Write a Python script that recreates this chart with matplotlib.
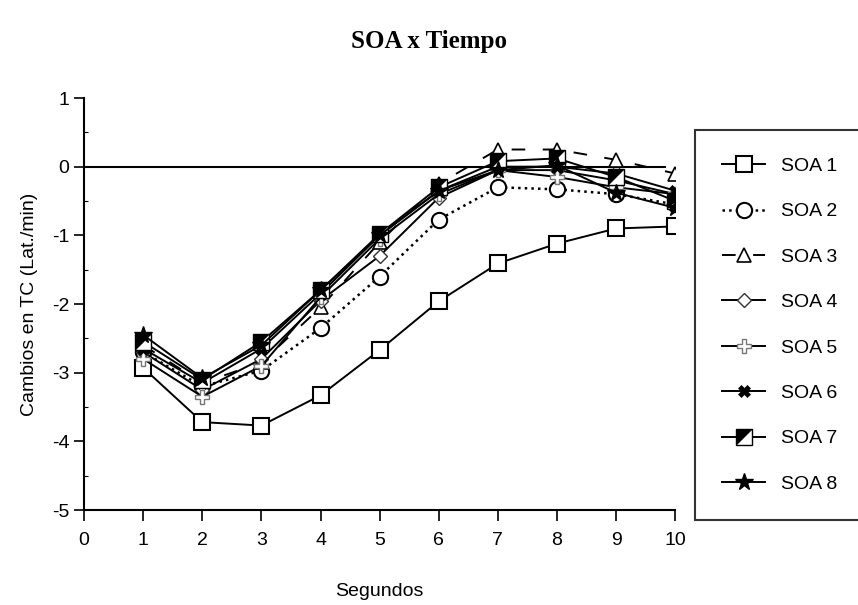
import matplotlib
matplotlib.use("Agg")
import matplotlib.pyplot as plt
from matplotlib.legend_handler import HandlerTuple

seconds = [1, 2, 3, 4, 5, 6, 7, 8, 9, 10]
soa1 = [-2.93, -3.72, -3.77, -3.33, -2.67, -1.96, -1.41, -1.12, -0.90, -0.87]
soa2 = [-2.70, -3.20, -2.97, -2.35, -1.60, -0.77, -0.30, -0.33, -0.40, -0.55]
soa3 = [-2.60, -3.15, -2.85, -2.05, -1.10, -0.25, 0.25, 0.25, 0.10, -0.10]
soa4 = [-2.70, -3.25, -2.80, -1.95, -1.30, -0.45, -0.05, -0.05, -0.20, -0.40]
soa5 = [-2.80, -3.35, -2.90, -1.90, -1.05, -0.40, -0.05, -0.15, -0.30, -0.40]
soa6 = [-2.65, -3.15, -2.65, -1.85, -1.00, -0.35, 0.00, 0.00, -0.10, -0.35]
soa7 = [-2.55, -3.10, -2.55, -1.80, -0.98, -0.30, 0.08, 0.12, -0.15, -0.50]
soa8 = [-2.45, -3.08, -2.60, -1.80, -1.00, -0.35, -0.05, 0.02, -0.38, -0.60]
labels = ["SOA 1", "SOA 2", "SOA 3", "SOA 4", "SOA 5", "SOA 6", "SOA 7", "SOA 8"]
xticks = list(range(0, 11))
yticks = [1, 0, -1, -2, -3, -4, -5]

plt.rcParams['font.family'] = ['Liberation Sans', 'DejaVu Sans']
plt.rcParams['axes.unicode_minus'] = False

fig = plt.figure(figsize=(8.58, 6.05), dpi=100)
ax = fig.add_axes([0.098, 0.157, 0.689, 0.681])

lw = 1.4
ax.axhline(0, xmin=0, xmax=0.983, color='black', lw=1.5, zorder=1)

h1, = ax.plot(seconds, soa1, '-', color='black', lw=lw, marker='s', ms=11,
              mfc='white', mec='black', mew=1.5, label=labels[0], zorder=3)
h2, = ax.plot(seconds, soa2, ':', color='black', lw=1.8, marker='o', ms=11,
              mfc='white', mec='black', mew=1.5, label=labels[1], zorder=3)
h3, = ax.plot(seconds, soa3, color='black', lw=lw, dashes=(7, 9), marker='^', ms=10,
              mfc='white', mec='black', mew=1.2, label=labels[2], zorder=3)
h4, = ax.plot(seconds, soa4, '-', color='black', lw=lw, marker='D', ms=7,
              mfc='white', mec='#333333', mew=1.0, label=labels[3], zorder=3)
h5, = ax.plot(seconds, soa5, '-', color='black', lw=lw, marker='P', ms=10,
              mfc='white', mec='#777777', mew=1.0, label=labels[4], zorder=3)
h6, = ax.plot(seconds, soa6, '-', color='black', lw=lw, marker='X', ms=9,
              mfc='black', mec='black', mew=0.5, label=labels[5], zorder=4)
h7a, = ax.plot(seconds, soa7, '-', color='black', lw=lw, marker='s', ms=11,
               mfc='white', mec='black', mew=1.0, zorder=4)
tri = [(-1, -1), (-1, 1), (1, 1)]
h7b, = ax.plot(seconds, soa7, linestyle='none', marker=tri, ms=11,
               mfc='black', mec='black', mew=0.5, zorder=4)
h8, = ax.plot(seconds, soa8, '-', color='black', lw=lw, marker='*', ms=13,
              mfc='black', mec='black', label=labels[7], zorder=5)

ax.set_xlim(0, 10)
ax.set_ylim(-5, 1)
ax.set_xticks(xticks)
ax.set_yticks(yticks)
ax.set_yticks([0.5, -0.5, -1.5, -2.5, -3.5, -4.5], minor=True)
ax.tick_params(axis='both', which='major', direction='out', length=7, width=1.2,
               labelsize=14, colors='black')
ax.tick_params(axis='y', which='minor', direction='in', length=3, width=0.8)
ax.tick_params(axis='x', which='major', length=8, pad=8)
for s in ['top', 'right']:
    ax.spines[s].set_visible(False)
for s in ['left', 'bottom']:
    ax.spines[s].set_linewidth(1.5)

ax.set_xlabel("Segundos", fontsize=14, labelpad=24)
ax.set_ylabel("Cambios en TC (Lat./min)", fontsize=14, labelpad=10)

fig.text(0.5, 0.932, "SOA x Tiempo", ha='center', va='center',
         fontsize=18, fontweight='bold', family='Liberation Serif')

handles = [h1, h2, h3, h4, h5, h6, (h7a, h7b), h8]
leg = fig.legend(handles, labels, loc='upper left', bbox_to_anchor=(0.81, 0.785),
                 fontsize=14, frameon=True, fancybox=False, borderpad=1.4,
                 labelspacing=1.43, handlelength=2.2, handletextpad=0.8,
                 borderaxespad=0,
                 handler_map={tuple: HandlerTuple(ndivide=1, pad=0)})
leg.get_frame().set_edgecolor('black')
leg.get_frame().set_linewidth(1.5)

fig.savefig("out.png", dpi=100)
